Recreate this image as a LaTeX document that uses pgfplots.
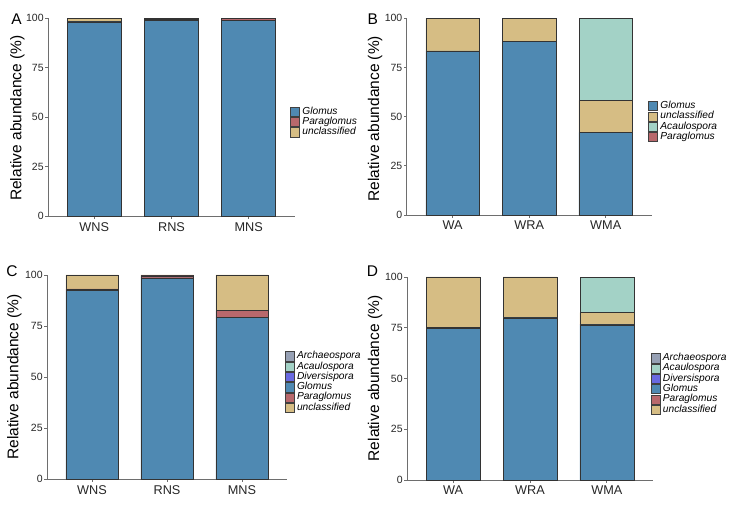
\documentclass[border=0pt]{standalone}
\usepackage{fontspec}
\setmainfont{Liberation Sans}
\usepackage{pgfplots}
\pgfplotsset{compat=1.18}
\definecolor{cGlo}{RGB}{79,137,178}
\definecolor{cUnc}{RGB}{214,189,132}
\definecolor{cPar}{RGB}{184,104,108}
\definecolor{cAca}{RGB}{163,210,198}
\definecolor{cDiv}{RGB}{105,105,225}
\definecolor{cArc}{RGB}{150,160,180}
\definecolor{axgray}{RGB}{110,110,110}
\pgfplotsset{
 panel/.style={
  scale only axis, ybar stacked, bar width=0.7,
  xmin=-0.6, xmax=2.6, ymin=0, ymax=100,
  axis lines*=left,
  axis line style={-, draw=axgray, line width=0.8pt},
  xtick={0,1,2}, ytick={0,25,50,75,100},
  tick align=outside, major tick length=2.7pt,
  tick style={draw=axgray, line width=0.8pt},
  /pgf/number format/assume math mode=true,
  yticklabel style={font=\fontsize{10.5}{12}\selectfont, text=black!85, inner sep=1.5pt},
  xticklabel style={font=\fontsize{12.7}{15}\selectfont, text=black!85},
  ylabel={Relative abundance (\%)},
  ylabel style={font=\fontsize{15.5}{18}\selectfont, anchor=center},
  clip=false,
  legend cell align=left,
  legend style={draw=none, fill=none, inner sep=0pt, outer sep=0pt, anchor=west,
    font=\itshape\fontsize{10.2}{11}\selectfont, row sep=0pt,
    nodes={inner sep=0.3pt, text height=7.3pt, text depth=2.4pt},
    /tikz/every odd column/.append style={column sep=2.5pt}},
  legend image code/.code={\draw[#1, draw=black!75, line width=0.6pt] (0pt,-4.6pt) rectangle (9pt,4.6pt);},
  every axis plot/.append style={draw=black!80, line width=0.5pt},
 },
}
\begin{document}
\begin{tikzpicture}
\useasboundingbox (0pt,0pt) rectangle (729pt,505pt);
% Panel A
\begin{axis}[panel, at={(48pt,289pt)}, anchor=south west, width=247pt, height=197.7pt,
  xticklabels={WNS,RNS,MNS},
  ylabel style={at={(axis description cs:-0.124,0.495)}},
  legend style={at={(axis description cs:0.98,0.475)}}]
\addplot[fill=cGlo, forget plot] coordinates {(0,98.2) (1,99.0) (2,98.9)};
\addplot[fill=cPar, forget plot] coordinates {(0,0.3) (1,0.3) (2,0.9)};
\addplot[fill=cUnc, forget plot] coordinates {(0,1.5) (1,0.7) (2,0.2)};
\addlegendimage{fill=cGlo}\addlegendentry{Glomus}
\addlegendimage{fill=cPar}\addlegendentry{Paraglomus}
\addlegendimage{fill=cUnc}\addlegendentry{unclassified}
\node[font=\fontsize{15.5}{18}\selectfont] at (axis description cs:-0.127,0.995) {A};
\end{axis}
% Panel B
\begin{axis}[panel, at={(406.7pt,290pt)}, anchor=south west, width=245pt, height=196.7pt,
  xticklabels={WA,WRA,WMA},
  ylabel style={at={(axis description cs:-0.129,0.49)}},
  legend style={at={(axis description cs:0.985,0.475)}}]
\addplot[fill=cGlo, forget plot] coordinates {(0,83.4) (1,88.3) (2,42.0)};
\addplot[fill=cUnc, forget plot] coordinates {(0,16.6) (1,11.7) (2,16.3)};
\addplot[fill=cAca, forget plot] coordinates {(0,0) (1,0) (2,41.7)};
\addlegendimage{fill=cGlo}\addlegendentry{Glomus}
\addlegendimage{fill=cUnc}\addlegendentry{unclassified}
\addlegendimage{fill=cAca}\addlegendentry{Acaulospora}
\addlegendimage{fill=cPar}\addlegendentry{Paraglomus}
\node[font=\fontsize{15.5}{18}\selectfont] at (axis description cs:-0.138,0.996) {B};
\end{axis}
% Panel C
\begin{axis}[panel, at={(47pt,26pt)}, anchor=south west, width=240pt, height=204pt,
  xticklabels={WNS,RNS,MNS},
  ylabel style={at={(axis description cs:-0.136,0.5)}},
  legend style={at={(axis description cs:0.99,0.475)}}]
\addplot[fill=cGlo, forget plot] coordinates {(0,92.3) (1,98.6) (2,79.3)};
\addplot[fill=cPar, forget plot] coordinates {(0,0.9) (1,1.0) (2,3.2)};
\addplot[fill=cUnc, forget plot] coordinates {(0,6.8) (1,0.4) (2,17.5)};
\addlegendimage{fill=cArc}\addlegendentry{Archaeospora}
\addlegendimage{fill=cAca}\addlegendentry{Acaulospora}
\addlegendimage{fill=cDiv}\addlegendentry{Diversispora}
\addlegendimage{fill=cGlo}\addlegendentry{Glomus}
\addlegendimage{fill=cPar}\addlegendentry{Paraglomus}
\addlegendimage{fill=cUnc}\addlegendentry{unclassified}
\node[font=\fontsize{15.5}{18}\selectfont] at (axis description cs:-0.146,1.02) {C};
\end{axis}
% Panel D
\begin{axis}[panel, at={(407pt,25pt)}, anchor=south west, width=246pt, height=203pt,
  xticklabels={WA,WRA,WMA},
  ylabel style={at={(axis description cs:-0.13,0.5)}},
  legend style={at={(axis description cs:0.99,0.473)}}]
\addplot[fill=cGlo, forget plot] coordinates {(0,74.6) (1,79.8) (2,76.4)};
\addplot[fill=cPar, forget plot] coordinates {(0,0.4) (1,0.2) (2,0.4)};
\addplot[fill=cUnc, forget plot] coordinates {(0,25.0) (1,20.0) (2,5.7)};
\addplot[fill=cAca, forget plot] coordinates {(0,0) (1,0) (2,17.5)};
\addlegendimage{fill=cArc}\addlegendentry{Archaeospora}
\addlegendimage{fill=cAca}\addlegendentry{Acaulospora}
\addlegendimage{fill=cDiv}\addlegendentry{Diversispora}
\addlegendimage{fill=cGlo}\addlegendentry{Glomus}
\addlegendimage{fill=cPar}\addlegendentry{Paraglomus}
\addlegendimage{fill=cUnc}\addlegendentry{unclassified}
\node[font=\fontsize{15.5}{18}\selectfont] at (axis description cs:-0.14,1.027) {D};
\end{axis}
\end{tikzpicture}
\end{document}
